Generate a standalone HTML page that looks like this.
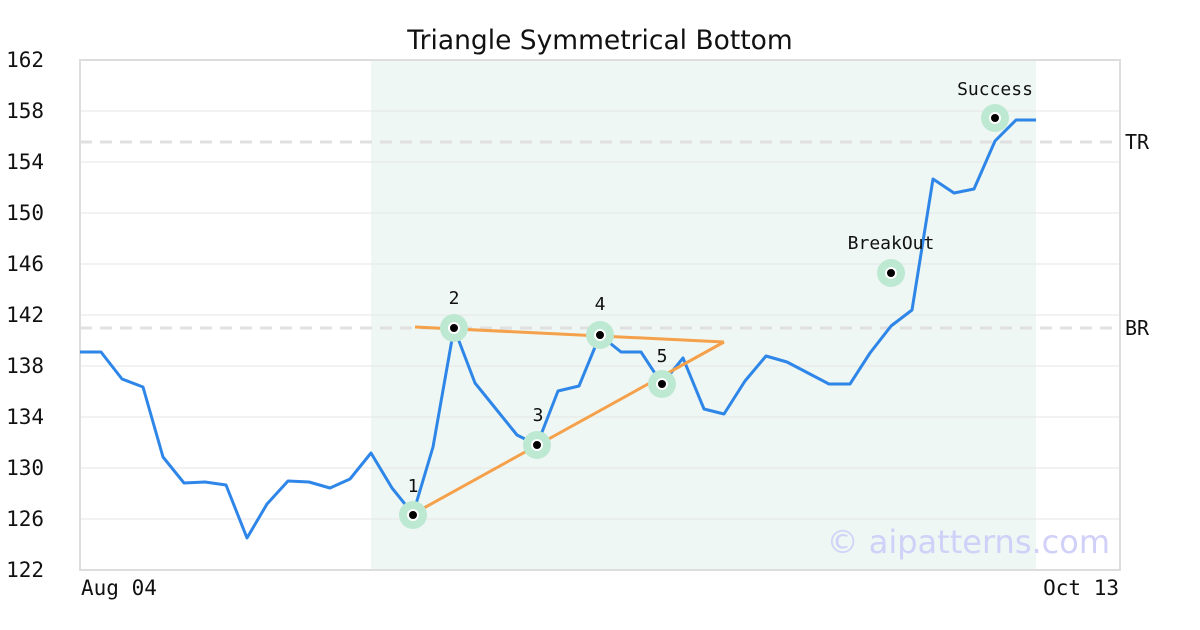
<!DOCTYPE html>
<html><head><meta charset="utf-8"><style>
html,body{margin:0;padding:0;background:#fff;}
svg{display:block;font-family:"DejaVu Sans Mono","Liberation Mono",monospace;}
</style></head><body>
<svg width="1200" height="630" viewBox="0 0 1200 630" xmlns="http://www.w3.org/2000/svg">
<rect width="1200" height="630" fill="#fff"/>
<rect x="371" y="61" width="665" height="509" fill="#eef7f3"/>
<g stroke="#e6e6e6" stroke-width="1">
<line x1="80" x2="1120" y1="111" y2="111"/><line x1="80" x2="1120" y1="162" y2="162"/>
<line x1="80" x2="1120" y1="213" y2="213"/><line x1="80" x2="1120" y1="264" y2="264"/>
<line x1="80" x2="1120" y1="315" y2="315"/><line x1="80" x2="1120" y1="366" y2="366"/>
<line x1="80" x2="1120" y1="417" y2="417"/><line x1="80" x2="1120" y1="468" y2="468"/>
<line x1="80" x2="1120" y1="519" y2="519"/>
</g>
<rect x="80" y="60" width="1040" height="510" fill="none" stroke="#dddddd" stroke-width="2"/>
<g stroke="#e0e0e0" stroke-width="3" stroke-dasharray="12,8">
<line x1="80" x2="1120" y1="142" y2="142"/><line x1="80" x2="1120" y1="328" y2="328"/>
</g>
<text x="1125" y="149" font-size="20" fill="#111">TR</text>
<text x="1125" y="335" font-size="20" fill="#111">BR</text>
<text x="600" y="49" font-size="26.5" text-anchor="middle" fill="#111" font-family="DejaVu Sans,Liberation Sans,sans-serif">Triangle Symmetrical Bottom</text>
<g font-size="21" fill="#111" text-anchor="end">
<text x="44" y="67">162</text><text x="44" y="118">158</text><text x="44" y="169">154</text>
<text x="44" y="220">150</text><text x="44" y="271">146</text><text x="44" y="322">142</text>
<text x="44" y="373">138</text><text x="44" y="424">134</text><text x="44" y="475">130</text>
<text x="44" y="526">126</text><text x="44" y="577">122</text>
</g>
<text x="81" y="595" font-size="21" fill="#111">Aug 04</text>
<text x="1119" y="595" font-size="21" fill="#111" text-anchor="end">Oct 13</text>
<text x="1110" y="553" font-size="32" fill="#d0d0f8" text-anchor="end" font-family="DejaVu Sans,Liberation Sans,sans-serif">© aipatterns.com</text>
<polyline fill="none" stroke="#2e86e8" stroke-width="3" stroke-linejoin="round" points="80,352 101,352 122,379 143,387 163,457 184,483 205,482 226,485 247,538 267,504 288,481 309,482 330,488 350,479 371,453 392,488 413,514 433,447 454,328 475,383 496,409 517,435 537,445 558,391 579,386 600,335 621,352 641,352 662,384 683,358 704,409 724,414 745,381 766,356 787,362 808,373 829,384 850,384 870,353 891,326 912,310 933,179 954,193 974,189 995,141 1016,120 1036,120"/>
<g stroke="#f5a04a" stroke-width="3" fill="none">
<line x1="415" y1="327" x2="724" y2="342"/><line x1="413" y1="514" x2="724" y2="342"/>
</g>
<g fill="#bde9d3">
<circle cx="413" cy="515" r="14"/><circle cx="454" cy="328" r="14"/><circle cx="537" cy="445" r="14"/>
<circle cx="600" cy="335" r="14"/><circle cx="662" cy="384" r="14"/><circle cx="891" cy="273" r="14"/><circle cx="995" cy="118" r="14"/>
</g>
<g fill="#000" stroke="#fff" stroke-width="2">
<circle cx="413" cy="515" r="5"/><circle cx="454" cy="328" r="5"/><circle cx="537" cy="445" r="5"/>
<circle cx="600" cy="335" r="5"/><circle cx="662" cy="384" r="5"/><circle cx="891" cy="273" r="5"/><circle cx="995" cy="118" r="5"/>
</g>
<g font-size="18" fill="#111" text-anchor="middle">
<text x="413" y="492">1</text><text x="454" y="304">2</text><text x="538" y="421">3</text>
<text x="600" y="310">4</text><text x="662" y="362">5</text>
<text x="891" y="249">BreakOut</text><text x="995" y="95">Success</text>
</g>
</svg>
</body></html>
